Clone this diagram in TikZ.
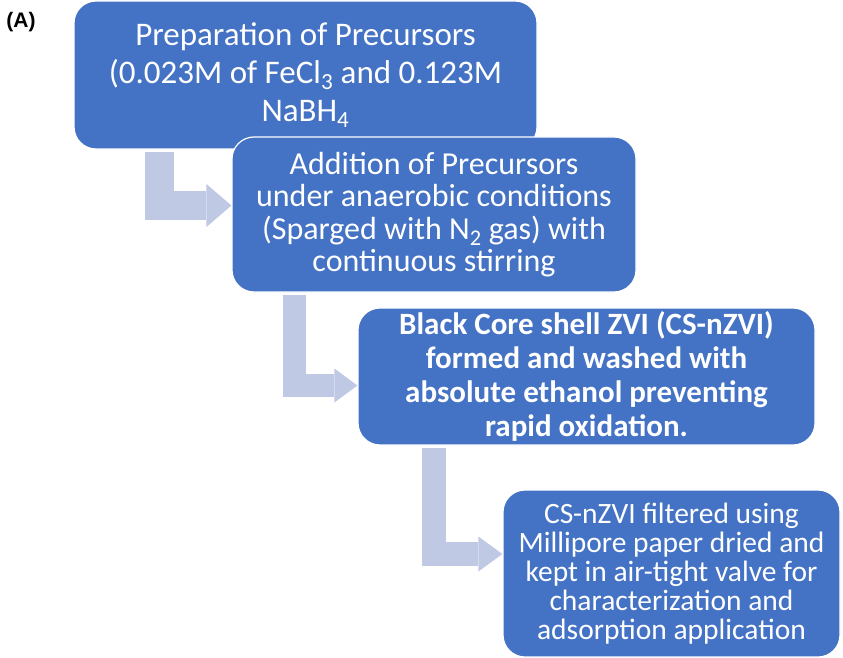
\documentclass[tikz,border=0pt]{standalone}
\usepackage{fontspec}
\setmainfont{Carlito}
\newfontfamily\labelfont{Liberation Sans}
\usetikzlibrary{arrows.meta,calc}
\definecolor{boxblue}{RGB}{68,114,196}
\definecolor{arrowblue}{RGB}{192,201,228}
\tikzset{
    box/.style={rounded corners=22pt, fill=boxblue, draw=white, line width=1.2pt,
        text=white, align=center, inner sep=0pt},
    bent/.style n args={3}{draw=arrowblue, line width=#1, line join=miter,
        -{Triangle[length=#2, width=#3, line width=0pt]}}
}
\begin{document}
\begin{tikzpicture}[x=1pt,y=-1pt]
    \useasboundingbox (0,0) rectangle (843,658);
    \node[font=\labelfont\bfseries\fontsize{21}{22}\selectfont] (lbl) at (21,22) {(A)};
    \node[box, minimum width=463pt, minimum height=148pt, font=\fontsize{33}{38}\selectfont] (prep) at (305.5,75)
        {Preparation of Precursors\\(0.023M of FeCl\textsubscript{3} and 0.123M\\NaBH\textsubscript{4}};
    \node[box, minimum width=404pt, minimum height=155pt, font=\fontsize{32}{32.5}\selectfont] (add) at (434,214.5)
        {Addition of Precursors\\under anaerobic conditions\\(Sparged with N\textsubscript{2} gas) with\\continuous stirring};
    \node[box, minimum width=457pt, minimum height=137pt, font=\bfseries\fontsize{31}{34}\selectfont] (core) at (586.5,376.5)
        {Black Core shell ZVI (CS-nZVI)\\formed and washed with\\absolute ethanol preventing\\rapid oxidation.};
    \node[box, minimum width=337pt, minimum height=167pt, font=\fontsize{29.5}{29}\selectfont] (filt) at (671.5,573.5)
        {CS-nZVI filtered using\\Millipore paper dried and\\kept in air-tight valve for\\characterization and\\adsorption application};
    \coordinate (a1) at (159.5,152);
    \coordinate (a2) at (294.5,295);
    \coordinate (a3) at (434,448);
    \draw[bent={29pt}{25pt}{43pt}] (a1) |- ($(add.west)+(0,-9)$);
    \draw[bent={23pt}{23pt}{34pt}] (a2) |- ($(core.west)+(0,9)$);
    \draw[bent={24pt}{24pt}{35pt}] (a3) |- ($(filt.west)+(0,-19.5)$);
\end{tikzpicture}
\end{document}
